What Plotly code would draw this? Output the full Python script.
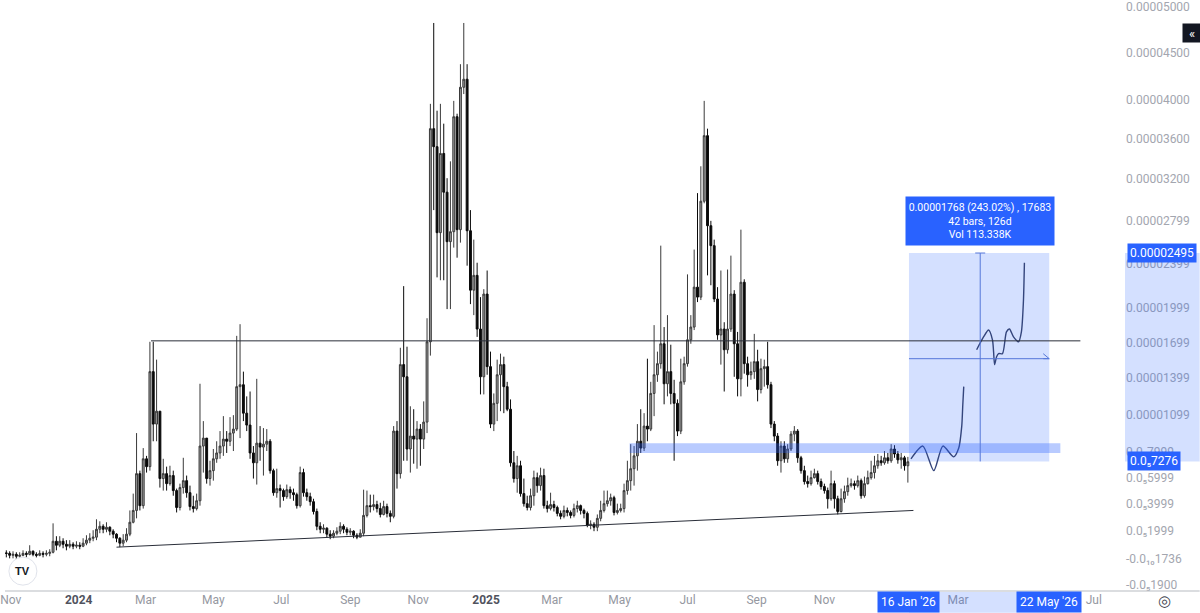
import math
import pandas as pd
import plotly.graph_objects as go

# ---------------- data (prices in units of 1e-6) ----------------
UNIT = 1e-6
BAR_START = "2023-10-28"      # 3-day bars
FIRST_OPEN = 0.40

close = [0.37,0.23,0.30,0.16,0.23,0.37,0.30,0.52,0.30,0.23,0.37,0.30,0.37,0.45,
         1.25,0.96,1.25,1.03,0.89,1.03,0.89,0.96,0.89,1.11,1.33,1.47,1.55,2.13,
         2.35,2.13,2.28,1.99,1.77,1.47,1.11,1.33,1.77,2.65,3.53,6.33,3.89,7.48,6.87,
         14.53,10.23,11.27,5.95,6.33,5.56,6.18,5.03,3.75,5.26,5.79,4.87,3.82,3.67,4.26,
         8.48,9.11,5.95,6.56,7.48,7.94,8.48,9.03,8.86,9.51,9.83,13.28,13.44,11.11,10.15,
         7.94,7.17,8.71,8.40,8.63,8.86,6.56,4.87,5.18,5.03,4.57,5.10,4.87,4.72,3.89,
         6.41,4.87,4.57,4.19,3.45,2.35,2.13,2.21,1.77,1.62,1.84,1.99,2.35,2.13,1.91,
         1.99,1.69,1.55,1.84,3.16,3.89,3.82,3.97,3.67,3.23,3.82,3.31,3.09,9.67,6.33,
         15.12,14.10,8.25,9.27,9.03,9.83,9.03,10.39,17.06,36.99,35.17,26.84,34.49,30.69,26.00,
         26.93,38.21,27.12,41.27,42.12,27.02,21.58,22.91,18.16,14.10,21.23,14.95,10.23,11.91,14.27,
         15.12,13.28,11.43,7.17,5.95,6.94,4.80,4.04,3.75,4.64,6.02,5.41,6.18,3.89,3.67,
         3.97,3.75,3.31,3.09,3.53,3.38,3.16,3.67,3.89,3.53,3.31,2.43,2.50,2.28,2.94,
         3.53,4.04,4.26,4.49,3.38,3.53,3.67,5.03,5.79,6.71,7.71,8.86,8.32,10.07,9.83,12.72,14.27,
         15.20,16.89,13.52,14.53,12.72,11.91,9.67,13.68,15.20,17.23,18.33,21.85,20.96,29.82,36.28,
         27.49,25.63,20.79,17.65,18.16,16.38,18.16,21.23,16.89,13.93,22.29,15.20,14.27,14.53,15.37,
         13.04,14.78,14.95,13.44,10.23,9.27,7.33,8.48,7.48,8.25,9.43,9.67,7.56,6.56,5.72,
         5.56,6.02,6.33,5.72,5.34,5.03,4.41,5.56,4.41,3.45,4.41,4.95,5.41,5.56,5.41,
         5.79,4.64,5.56,6.02,6.41,6.94,7.33,7.17,7.56,7.33,8.25,7.86,7.40,7.56,6.94,7.25]

high = [0.59,0.52,0.52,0.45,0.45,0.59,0.52,0.96,0.59,0.45,0.59,0.52,0.59,0.67,
        2.57,1.62,1.62,1.47,1.33,1.33,1.18,1.25,1.18,1.47,1.69,1.84,2.06,2.87,
        2.72,2.50,2.65,2.35,2.13,1.84,1.55,1.77,2.21,3.53,4.80,9.51,6.56,8.32,7.71,
        17.06,17.06,15.54,11.11,7.48,6.87,6.94,6.56,5.18,5.56,7.56,6.18,5.41,4.64,4.80,
        13.52,10.47,8.86,7.33,8.25,8.86,9.67,10.87,9.67,10.79,10.95,17.57,18.58,14.53,12.48,
        12.88,8.48,13.93,10.07,9.91,9.83,9.03,6.71,6.71,5.49,5.18,5.49,5.34,5.18,4.87,
        6.87,6.71,5.18,4.87,4.41,3.67,2.65,2.50,2.28,2.06,2.06,2.28,2.65,2.50,2.28,
        2.21,2.06,1.84,2.13,5.10,5.03,4.72,4.72,4.26,4.11,4.26,4.04,3.53,10.07,10.47,
        16.55,21.94,16.64,11.67,11.43,10.47,10.23,12.07,19.10,39.54,48.21,38.83,39.54,37.50,32.05,
        33.71,39.85,38.52,43.72,48.21,43.72,28.97,26.19,24.06,20.96,21.67,23.35,16.22,12.72,15.54,
        16.05,15.79,13.68,12.23,8.09,7.71,7.33,5.95,4.64,5.18,6.56,6.41,6.79,6.71,4.26,
        4.87,4.26,3.89,3.53,3.89,3.75,3.53,4.04,4.26,3.97,3.67,3.45,2.79,2.65,3.23,
        4.26,5.03,5.03,4.80,4.64,4.04,4.04,5.56,7.33,8.63,8.48,10.23,11.43,11.11,15.62,13.68,18.50,
        16.22,25.63,18.33,19.37,16.81,13.85,12.23,15.62,15.79,23.00,19.37,25.27,30.60,33.22,39.85,
        36.99,27.95,26.19,21.85,23.35,18.75,23.44,24.71,21.58,17.91,27.12,22.56,15.79,15.37,17.74,
        16.38,15.62,15.54,17.06,13.68,10.47,9.51,8.86,8.86,8.63,9.67,10.07,9.83,7.71,6.94,
        6.18,6.56,6.71,6.56,5.95,5.56,5.26,6.56,5.79,4.64,5.18,5.41,6.02,5.95,5.79,
        6.18,5.95,6.10,6.56,7.33,7.71,7.86,7.71,8.09,7.94,8.63,8.55,8.09,7.94,7.71,7.63]

low = [0.08,0.01,0.01,-0.14,0.01,0.16,0.08,0.23,0.16,0.08,0.16,0.08,0.16,0.16,
       0.37,0.59,0.82,0.74,0.59,0.74,0.67,0.74,0.67,0.82,0.96,1.11,1.25,1.33,
       1.84,1.84,1.91,1.69,1.47,1.18,0.82,0.89,1.18,1.62,2.57,2.94,3.53,3.67,6.41,
       6.56,8.86,8.86,5.26,5.03,5.03,5.41,4.64,3.38,3.53,4.80,4.49,3.53,3.38,3.53,
       3.89,6.41,5.56,5.41,5.79,7.17,7.48,7.71,7.94,8.48,8.09,9.67,9.11,10.47,9.67,
       7.48,5.95,5.49,7.33,6.18,8.09,6.33,4.64,4.49,3.75,4.26,4.41,4.41,4.26,3.67,
       3.75,4.57,4.26,3.89,3.23,2.06,1.84,1.84,1.55,1.40,1.47,1.69,1.77,1.84,1.69,
       1.69,1.47,1.40,1.55,1.62,3.01,3.38,3.53,3.38,3.01,3.16,3.01,2.65,2.94,5.18,
       5.95,7.33,7.33,6.41,7.10,6.71,6.94,8.25,9.51,15.88,28.97,22.73,22.47,22.47,19.90,
       19.90,25.45,24.52,25.91,40.56,23.79,20.34,19.37,17.48,12.64,12.64,14.27,9.91,9.67,10.47,
       11.27,11.11,11.27,6.87,5.64,4.87,4.57,3.82,3.53,3.53,3.89,4.87,5.03,3.67,3.38,
       3.53,3.45,3.09,2.87,2.94,3.09,2.94,3.01,3.38,3.23,2.94,2.28,2.13,1.99,1.99,
       2.72,3.38,3.82,3.89,3.16,3.23,3.38,3.38,4.72,5.03,5.41,6.56,7.94,8.09,8.86,9.67,10.87,
       13.68,14.78,11.83,12.48,11.83,7.33,9.27,9.43,13.44,14.95,16.89,18.07,20.52,20.70,29.62,
       22.91,22.02,20.52,17.23,15.12,12.88,16.05,17.91,14.10,12.48,12.48,14.36,13.28,13.85,13.93,
       12.07,12.72,13.28,13.12,9.91,8.86,6.94,6.41,7.17,7.17,8.09,8.86,7.17,6.33,5.49,
       5.26,5.41,5.95,5.49,5.10,4.80,3.67,4.26,3.67,3.23,3.38,4.11,4.64,5.26,5.10,
       5.26,4.41,4.49,5.49,5.87,5.95,6.71,6.94,7.02,7.10,7.17,7.56,7.10,6.71,6.56,5.64]

# drawn levels / tools
RESIST_LEVEL = 17.14
RESIST_DATES = ["2024-03-06", "2026-06-19"]
TREND_DATES = ["2024-02-04", "2026-01-20"]
TREND_VALUES = [0.82, 3.53]
ZONE_DATES = ["2025-05-10", "2026-06-01"]
ZONE_VALUES = [7.94, 8.71]
RANGE_DATES = ["2026-01-16", "2026-05-22"]
RANGE_VALUES = [7.276, 24.95]
RANGE_MID_DATE = "2026-03-21"
RANGE_MID_VALUE = 15.62

CURVE1_DATES = ["2026-01-17 19:00", "2026-01-28 12:00", "2026-02-07 07:00", "2026-02-15 10:00",
                "2026-02-25 05:00", "2026-03-01 17:00", "2026-03-04 10:00", "2026-03-05 07:00",
                "2026-03-06 05:00"]
CURVE1_VALUES = [7.48, 8.48, 6.56, 8.48, 7.63, 8.32, 10.07, 11.67, 13.28]
CURVE2_DATES = ["2026-03-17 19:00", "2026-03-24 00:00", "2026-03-28 12:00", "2026-04-01 00:00",
                "2026-04-02 00:00", "2026-04-02 22:00", "2026-04-04 17:00", "2026-04-06 12:00",
                "2026-04-10 00:00", "2026-04-13 14:00", "2026-04-16 07:00", "2026-04-19 22:00",
                "2026-04-24 10:00", "2026-04-27 00:00", "2026-04-28 19:00", "2026-04-29 17:00"]
CURVE2_VALUES = [16.38, 17.48, 18.07, 17.23, 16.22, 15.12, 15.79, 16.05,
                 16.05, 17.91, 18.16, 17.48, 17.06, 17.91, 20.52, 24.06]

Y_TICK_VALUES = [50.0, 45.0, 40.0, 36.0, 32.0, 27.99, 23.99, 19.99, 16.99, 13.99, 10.99,
                 7.999, 5.999, 3.999, 1.999, 0.0, -1.9]
Y_TICK_LABELS = ["0.00005000", "0.00004500", "0.00004000", "0.00003600", "0.00003200",
                 "0.00002799", "0.00002399", "0.00001999", "0.00001699", "0.00001399",
                 "0.00001099", "0.0₅7999", "0.0₅5999", "0.0₅3999", "0.0₅1999",
                 "-0.0₁₀1736", "-0.0₅1900"]
X_TICK_DATES = ["2023-11-01", "2024-01-01", "2024-03-01", "2024-05-01", "2024-07-01",
                "2024-09-01", "2024-11-01", "2025-01-01", "2025-03-01", "2025-05-01",
                "2025-07-01", "2025-09-01", "2025-11-01", "2026-03-01", "2026-07-01"]
X_TICK_LABELS = ["Nov", "2024", "Mar", "May", "Jul", "Sep", "Nov", "2025", "Mar", "May",
                 "Jul", "Sep", "Nov", "Mar", "Jul"]

# ---------------- scale helpers ----------------
OFFSET = 9.0e-5                     # price axis: log scale of (price + offset)
Y_LO, Y_HI = -4.05707, -3.85321
X_RANGE = ["2023-10-26 19:30", "2026-07-29 02:00"]
PLOT_W, PLOT_H = 1125, 591


def Y(v):
    return v * UNIT + OFFSET


def yfrac(v):
    return (math.log10(Y(v)) - Y_LO) / (Y_HI - Y_LO)


def pfrac(py):  # pixel row -> paper fraction
    return (PLOT_H - py) / PLOT_H


n = min(len(close), len(high), len(low))
dates = pd.date_range(BAR_START, periods=n, freq="3D")
opens = [FIRST_OPEN] + close[:n - 1]
hi_ = [max(high[i], opens[i], close[i]) for i in range(n)]
lo_ = [min(low[i], opens[i], close[i]) for i in range(n)]

fig = go.Figure()
fig.add_trace(go.Candlestick(
    x=dates, open=[Y(v) for v in opens], high=[Y(v) for v in hi_],
    low=[Y(v) for v in lo_], close=[Y(v) for v in close[:n]],
    increasing=dict(line=dict(color="#3a3a3a", width=1), fillcolor="#9c9c9c"),
    decreasing=dict(line=dict(color="#0a0a0a", width=1), fillcolor="#0a0a0a"),
    hoverinfo="skip", showlegend=False))

CURVE_COLOR = "#34457c"
fig.add_trace(go.Scatter(x=CURVE1_DATES, y=[Y(v) for v in CURVE1_VALUES], mode="lines",
                         line=dict(color=CURVE_COLOR, width=1.4, shape="spline", smoothing=0.7),
                         hoverinfo="skip", showlegend=False))
fig.add_trace(go.Scatter(x=CURVE2_DATES, y=[Y(v) for v in CURVE2_VALUES], mode="lines",
                         line=dict(color=CURVE_COLOR, width=1.4, shape="spline", smoothing=0.7),
                         hoverinfo="skip", showlegend=False))

BLUE = "#2962ff"
LIGHT = "rgba(41,98,255,0.20)"
ARROW = "#5577d9"
shapes = [
    dict(type="rect", xref="x", yref="y", x0=RANGE_DATES[0], x1=RANGE_DATES[1],
         y0=Y(RANGE_VALUES[0]), y1=Y(RANGE_VALUES[1]), fillcolor=LIGHT, line=dict(width=0),
         layer="below"),
    dict(type="rect", xref="x", yref="y", x0=ZONE_DATES[0], x1=ZONE_DATES[1],
         y0=Y(ZONE_VALUES[0]), y1=Y(ZONE_VALUES[1]), fillcolor="rgba(41,98,255,0.33)",
         line=dict(width=0), layer="above"),
    dict(type="line", xref="x", yref="y", x0=RESIST_DATES[0], x1=RESIST_DATES[1],
         y0=Y(RESIST_LEVEL), y1=Y(RESIST_LEVEL), line=dict(color="#2a2e39", width=1)),
    dict(type="line", xref="x", yref="y", x0=TREND_DATES[0], x1=TREND_DATES[1],
         y0=Y(TREND_VALUES[0]), y1=Y(TREND_VALUES[1]), line=dict(color="#2a2e39", width=1)),
    dict(type="line", xref="x", yref="y", x0=RANGE_MID_DATE, x1=RANGE_MID_DATE,
         y0=Y(RANGE_VALUES[0]), y1=Y(RANGE_VALUES[1]), line=dict(color=ARROW, width=1)),
    dict(type="line", xref="x", yref="y", x0=RANGE_DATES[0], x1=RANGE_DATES[1],
         y0=Y(RANGE_MID_VALUE), y1=Y(RANGE_MID_VALUE), line=dict(color=ARROW, width=1)),
]
for dx, dy in [(-5, -6), (5, -6)]:
    shapes.append(dict(type="line", xref="x", yref="y", xsizemode="pixel", ysizemode="pixel",
                       xanchor=RANGE_MID_DATE, yanchor=Y(RANGE_VALUES[1]),
                       x0=0, y0=0, x1=dx, y1=dy, line=dict(color=ARROW, width=1)))
for dx, dy in [(-6, 5), (-6, -5)]:
    shapes.append(dict(type="line", xref="x", yref="y", xsizemode="pixel", ysizemode="pixel",
                       xanchor=RANGE_DATES[1], yanchor=Y(RANGE_MID_VALUE),
                       x0=0, y0=0, x1=dx, y1=dy, line=dict(color=ARROW, width=1)))
shapes.append(dict(type="rect", xref="paper", yref="paper", x0=1.0, x1=1200 / PLOT_W,
                   y0=yfrac(RANGE_VALUES[0]), y1=yfrac(RANGE_VALUES[1]),
                   fillcolor=LIGHT, line=dict(width=0), layer="above"))
shapes.append(dict(type="rect", xref="x", yref="paper", x0=RANGE_DATES[0], x1=RANGE_DATES[1],
                   y0=pfrac(613), y1=pfrac(592), fillcolor=LIGHT, line=dict(width=0),
                   layer="above"))
shapes.append(dict(type="line", xref="paper", yref="paper", x0=0, x1=1200 / PLOT_W,
                   y0=0, y1=0, line=dict(color="#b8bbc2", width=1.2)))
shapes.append(dict(type="circle", xref="paper", yref="paper", xsizemode="pixel",
                   ysizemode="pixel", xanchor=18 / PLOT_W, yanchor=pfrac(571),
                   x0=-14, x1=14, y0=-14, y1=14, fillcolor="white",
                   line=dict(color="#e0e3eb", width=1)))

annotations = [
    dict(x=RANGE_MID_DATE, xref="x", y=pfrac(218), yref="paper",
         text="0.00001768 (243.02%) , 17683<br>42 bars, 126d<br>Vol 113.338K",
         showarrow=False, bgcolor=BLUE, font=dict(color="white", size=10.5),
         width=146, height=46, align="center", xanchor="center", yanchor="middle"),
    dict(x=1.0, xref="paper", xanchor="left", xshift=2, y=yfrac(RANGE_VALUES[1]), yref="paper",
         yanchor="middle", text="0.00002495", showarrow=False, bgcolor=BLUE, borderpad=2,
         font=dict(color="white", size=12)),
    dict(x=1.0, xref="paper", xanchor="left", xshift=2, y=yfrac(RANGE_VALUES[0]), yref="paper",
         yanchor="middle", text="0.0₅7276", showarrow=False, bgcolor=BLUE, borderpad=2,
         font=dict(color="white", size=12)),
    dict(x=RANGE_DATES[0], xref="x", xanchor="center", y=pfrac(602), yref="paper",
         yanchor="middle", text="16 Jan '26", showarrow=False, bgcolor=BLUE, borderpad=3,
         font=dict(color="white", size=12)),
    dict(x=RANGE_DATES[1], xref="x", xanchor="center", y=pfrac(602), yref="paper",
         yanchor="middle", text="22 May '26", showarrow=False, bgcolor=BLUE, borderpad=3,
         font=dict(color="white", size=12)),
    dict(x=1192 / PLOT_W, xref="paper", xanchor="center", y=pfrac(28), yref="paper",
         yanchor="middle", text="«", showarrow=False, bgcolor="#131722",
         font=dict(color="white", size=13), width=16, height=16),
    dict(x=1165 / PLOT_W, xref="paper", xanchor="center", y=pfrac(601), yref="paper",
         yanchor="middle", text="◎", showarrow=False, font=dict(color="#434651", size=15)),
    dict(x=18 / PLOT_W, xref="paper", xanchor="center", y=pfrac(571), yref="paper",
         yanchor="middle", text="<b>TV</b>", showarrow=False,
         font=dict(color="#131722", size=11, family="Arial")),
]

x_ticktext = []
for lab in X_TICK_LABELS:
    if lab.isdigit():
        x_ticktext.append('<span style="color:#50535e"><b>%s</b></span>' % lab)
    else:
        x_ticktext.append(lab)

fig.update_layout(
    width=1200, height=613, margin=dict(l=0, r=75, t=0, b=22),
    paper_bgcolor="white", plot_bgcolor="white", boxgap=0.2,
    font=dict(family="Roboto, Arial, sans-serif", size=12, color="#9598a1"),
    showlegend=False, shapes=shapes, annotations=annotations,
    xaxis=dict(type="date", range=X_RANGE, rangeslider=dict(visible=False),
               showgrid=False, zeroline=False, showline=False, ticks="",
               tickvals=X_TICK_DATES, ticktext=x_ticktext, ticklabeloverflow="allow",
               tickfont=dict(size=12, color="#9598a1")),
    yaxis=dict(type="log", range=[Y_LO, Y_HI], side="right", showgrid=False,
               zeroline=False, showline=False, ticks="", ticklabeloverflow="allow",
               tickvals=[Y(v) for v in Y_TICK_VALUES], ticktext=Y_TICK_LABELS,
               tickfont=dict(size=12, color="#a3a6af")),
)

fig.write_html("out.html", config={"displayModeBar": False},
               post_script="document.body.style.margin='0';document.body.style.overflow='hidden';")
